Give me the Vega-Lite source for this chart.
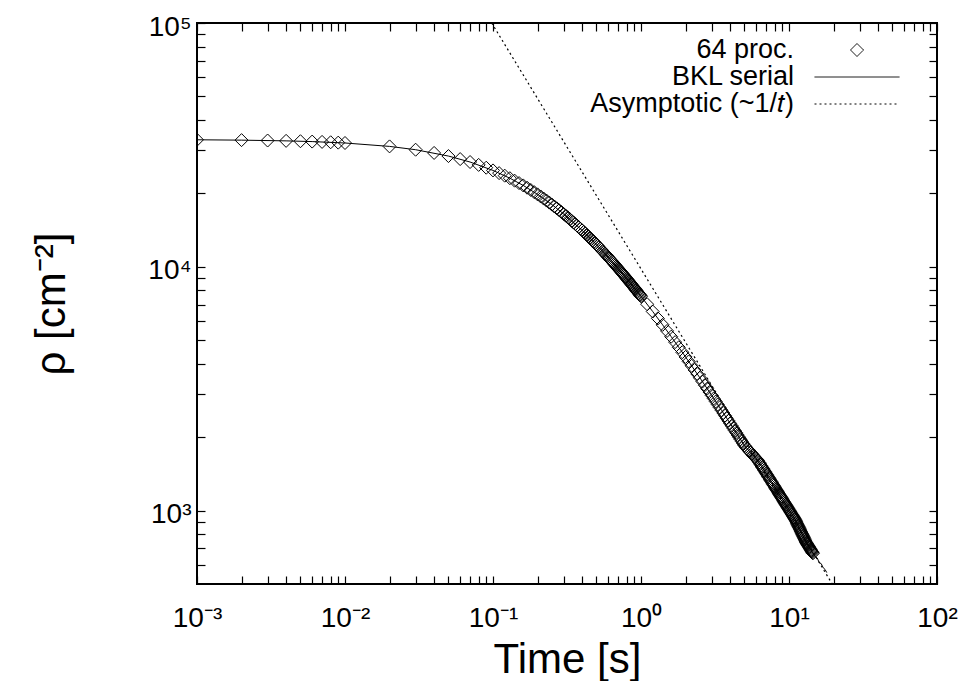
{
  "$schema": "https://vega.github.io/schema/vega-lite/v6.json",
  "width": 740,
  "height": 561,
  "autosize": "none",
  "padding": {"left": 197, "top": 23, "right": 26, "bottom": 97},
  "background": "white",
  "config": {
    "font": "Liberation Sans",
    "view": {"stroke": "black", "strokeWidth": 2},
    "axis": {"grid": false, "domain": false, "tickColor": "black", "tickWidth": 1.2, "labelColor": "black", "titleColor": "black", "titleFontWeight": "normal", "labelFont": "Liberation Sans", "titleFont": "Liberation Sans"}
  },
  "datasets": {
    "asym": [{"t": 0.098, "rho": 100000}, {"t": 19.6, "rho": 500}],
    "bkl": [
      {"t": 0.001, "rho": 33190}, {"t": 0.002, "rho": 33075}, {"t": 0.004, "rho": 32850}, {"t": 0.006, "rho": 32630}, {"t": 0.01, "rho": 32200},
      {"t": 0.02, "rho": 31180}, {"t": 0.03, "rho": 30220}, {"t": 0.05, "rho": 28460}, {"t": 0.07, "rho": 26900}, {"t": 0.1, "rho": 24850},
      {"t": 0.13, "rho": 23090}, {"t": 0.16, "rho": 21570}, {"t": 0.2, "rho": 19820}, {"t": 0.25, "rho": 18000}, {"t": 0.3, "rho": 16480},
      {"t": 0.4, "rho": 14110}, {"t": 0.5, "rho": 12330}, {"t": 0.6, "rho": 10950}, {"t": 0.7, "rho": 9850}, {"t": 0.8, "rho": 8950},
      {"t": 0.9, "rho": 8200}, {"t": 1.0, "rho": 7566}, {"t": 1.2, "rho": 6554}, {"t": 1.4, "rho": 5780}, {"t": 1.6, "rho": 5169},
      {"t": 1.8, "rho": 4676}, {"t": 2.0, "rho": 4268}, {"t": 2.5, "rho": 3504}, {"t": 3.0, "rho": 2972}, {"t": 3.5, "rho": 2581},
      {"t": 4.0, "rho": 2280}, {"t": 4.5, "rho": 2042}, {"t": 5.0, "rho": 1849}, {"t": 5.5, "rho": 1732}, {"t": 6.0, "rho": 1634},
      {"t": 6.5, "rho": 1527}, {"t": 7.0, "rho": 1423}, {"t": 7.5, "rho": 1332}, {"t": 8.0, "rho": 1251}, {"t": 8.5, "rho": 1180},
      {"t": 9.0, "rho": 1117}, {"t": 9.5, "rho": 1060}, {"t": 10, "rho": 1008}, {"t": 10.5, "rho": 962}, {"t": 11, "rho": 919},
      {"t": 11.5, "rho": 870}, {"t": 12, "rho": 824}, {"t": 12.5, "rho": 783}, {"t": 13, "rho": 744}, {"t": 13.5, "rho": 717},
      {"t": 14, "rho": 692}, {"t": 14.5, "rho": 668}, {"t": 15, "rho": 648}, {"t": 15.5, "rho": 640}, {"t": 16, "rho": 612},
      {"t": 16.5, "rho": 606}, {"t": 17, "rho": 584}, {"t": 17.5, "rho": 574}, {"t": 18, "rho": 557}
    ],
    "pts": [
      {"t": 0.001, "rho": 33190}, {"t": 0.002, "rho": 33080}, {"t": 0.003, "rho": 32960}, {"t": 0.004, "rho": 32850}, {"t": 0.005, "rho": 32740},
      {"t": 0.006, "rho": 32630}, {"t": 0.007, "rho": 32530}, {"t": 0.008, "rho": 32420}, {"t": 0.009, "rho": 32310}, {"t": 0.01, "rho": 32200},
      {"t": 0.02, "rho": 31180}, {"t": 0.03, "rho": 30220}, {"t": 0.04, "rho": 29310}, {"t": 0.05, "rho": 28460}, {"t": 0.06, "rho": 27660},
      {"t": 0.07, "rho": 26900}, {"t": 0.08, "rho": 26180}, {"t": 0.09, "rho": 25500}, {"t": 0.1, "rho": 24850},
      {"t": 0.11, "rho": 24230}, {"t": 0.12, "rho": 23650}, {"t": 0.13, "rho": 23090}, {"t": 0.14, "rho": 22560}, {"t": 0.15, "rho": 22050},
      {"t": 0.16, "rho": 21570}, {"t": 0.17, "rho": 21100}, {"t": 0.18, "rho": 20660}, {"t": 0.19, "rho": 20230}, {"t": 0.2, "rho": 19820},
      {"t": 0.21, "rho": 19430}, {"t": 0.22, "rho": 19050}, {"t": 0.23, "rho": 18690}, {"t": 0.24, "rho": 18340}, {"t": 0.25, "rho": 18000},
      {"t": 0.26, "rho": 17670}, {"t": 0.27, "rho": 17360}, {"t": 0.28, "rho": 17060}, {"t": 0.29, "rho": 16770}, {"t": 0.3, "rho": 16480},
      {"t": 0.31, "rho": 16210}, {"t": 0.32, "rho": 15950}, {"t": 0.33, "rho": 15690}, {"t": 0.34, "rho": 15440}, {"t": 0.35, "rho": 15200},
      {"t": 0.36, "rho": 14970}, {"t": 0.37, "rho": 14750}, {"t": 0.38, "rho": 14530}, {"t": 0.39, "rho": 14310}, {"t": 0.4, "rho": 14110},
      {"t": 0.41, "rho": 13910}, {"t": 0.42, "rho": 13710}, {"t": 0.43, "rho": 13520}, {"t": 0.44, "rho": 13340}, {"t": 0.45, "rho": 13160},
      {"t": 0.46, "rho": 12990}, {"t": 0.47, "rho": 12820}, {"t": 0.48, "rho": 12650}, {"t": 0.49, "rho": 12490}, {"t": 0.5, "rho": 12330},
      {"t": 0.51, "rho": 12180}, {"t": 0.52, "rho": 12030}, {"t": 0.53, "rho": 11880}, {"t": 0.54, "rho": 11740}, {"t": 0.55, "rho": 11600},
      {"t": 0.56, "rho": 11470}, {"t": 0.57, "rho": 11330}, {"t": 0.58, "rho": 11200}, {"t": 0.59, "rho": 11080}, {"t": 0.6, "rho": 10950},
      {"t": 0.61, "rho": 10830}, {"t": 0.62, "rho": 10710}, {"t": 0.63, "rho": 10600}, {"t": 0.64, "rho": 10480}, {"t": 0.65, "rho": 10370},
      {"t": 0.66, "rho": 10260}, {"t": 0.67, "rho": 10160}, {"t": 0.68, "rho": 10050}, {"t": 0.69, "rho": 9950}, {"t": 0.7, "rho": 9850},
      {"t": 0.71, "rho": 9752}, {"t": 0.72, "rho": 9656}, {"t": 0.73, "rho": 9562}, {"t": 0.74, "rho": 9469}, {"t": 0.75, "rho": 9378},
      {"t": 0.76, "rho": 9289}, {"t": 0.77, "rho": 9202}, {"t": 0.78, "rho": 9116}, {"t": 0.79, "rho": 9032}, {"t": 0.8, "rho": 8950},
      {"t": 0.81, "rho": 8869}, {"t": 0.82, "rho": 8789}, {"t": 0.83, "rho": 8711}, {"t": 0.84, "rho": 8634}, {"t": 0.85, "rho": 8558},
      {"t": 0.86, "rho": 8484}, {"t": 0.87, "rho": 8411}, {"t": 0.88, "rho": 8340}, {"t": 0.89, "rho": 8269}, {"t": 0.9, "rho": 8200},
      {"t": 0.91, "rho": 8132}, {"t": 0.92, "rho": 8065}, {"t": 0.93, "rho": 7999}, {"t": 0.94, "rho": 7934}, {"t": 0.95, "rho": 7870},
      {"t": 0.96, "rho": 7808}, {"t": 0.97, "rho": 7746}, {"t": 0.98, "rho": 7685}, {"t": 0.99, "rho": 7625}, {"t": 1.0, "rho": 7566},
      {"t": 1.1, "rho": 7024}, {"t": 1.2, "rho": 6554}, {"t": 1.3, "rho": 6143}, {"t": 1.4, "rho": 5780}, {"t": 1.5, "rho": 5457},
      {"t": 1.6, "rho": 5169}, {"t": 1.7, "rho": 4910}, {"t": 1.8, "rho": 4676}, {"t": 1.9, "rho": 4463}, {"t": 2.0, "rho": 4268},
      {"t": 2.1, "rho": 4090}, {"t": 2.2, "rho": 3926}, {"t": 2.3, "rho": 3775}, {"t": 2.4, "rho": 3635}, {"t": 2.5, "rho": 3504},
      {"t": 2.6, "rho": 3383}, {"t": 2.7, "rho": 3270}, {"t": 2.8, "rho": 3164}, {"t": 2.9, "rho": 3065}, {"t": 3.0, "rho": 2972},
      {"t": 3.1, "rho": 2885}, {"t": 3.2, "rho": 2802}, {"t": 3.3, "rho": 2724}, {"t": 3.4, "rho": 2651}, {"t": 3.5, "rho": 2581},
      {"t": 3.6, "rho": 2514}, {"t": 3.7, "rho": 2451}, {"t": 3.8, "rho": 2392}, {"t": 3.9, "rho": 2335}, {"t": 4.0, "rho": 2280},
      {"t": 4.1, "rho": 2228}, {"t": 4.2, "rho": 2179}, {"t": 4.3, "rho": 2131}, {"t": 4.4, "rho": 2086}, {"t": 4.5, "rho": 2042},
      {"t": 4.6, "rho": 2001}, {"t": 4.7, "rho": 1961}, {"t": 4.8, "rho": 1922}, {"t": 4.9, "rho": 1885}, {"t": 5.0, "rho": 1849},
      {"t": 5.1, "rho": 1824}, {"t": 5.2, "rho": 1800}, {"t": 5.3, "rho": 1776}, {"t": 5.4, "rho": 1754}, {"t": 5.5, "rho": 1732},
      {"t": 5.6, "rho": 1711}, {"t": 5.7, "rho": 1690}, {"t": 5.8, "rho": 1671}, {"t": 5.9, "rho": 1652}, {"t": 6.0, "rho": 1634},
      {"t": 6.1, "rho": 1615}, {"t": 6.2, "rho": 1598}, {"t": 6.3, "rho": 1574}, {"t": 6.4, "rho": 1551}, {"t": 6.5, "rho": 1527},
      {"t": 6.6, "rho": 1505}, {"t": 6.7, "rho": 1484}, {"t": 6.8, "rho": 1463}, {"t": 6.9, "rho": 1443}, {"t": 7.0, "rho": 1423},
      {"t": 7.1, "rho": 1404}, {"t": 7.2, "rho": 1385}, {"t": 7.3, "rho": 1367}, {"t": 7.4, "rho": 1349}, {"t": 7.5, "rho": 1332},
      {"t": 7.6, "rho": 1315}, {"t": 7.7, "rho": 1298}, {"t": 7.8, "rho": 1282}, {"t": 7.9, "rho": 1267}, {"t": 8.0, "rho": 1251},
      {"t": 8.1, "rho": 1236}, {"t": 8.2, "rho": 1222}, {"t": 8.3, "rho": 1208}, {"t": 8.4, "rho": 1194}, {"t": 8.5, "rho": 1180},
      {"t": 8.6, "rho": 1167}, {"t": 8.7, "rho": 1154}, {"t": 8.8, "rho": 1141}, {"t": 8.9, "rho": 1129}, {"t": 9.0, "rho": 1117},
      {"t": 9.1, "rho": 1105}, {"t": 9.2, "rho": 1093}, {"t": 9.3, "rho": 1082}, {"t": 9.4, "rho": 1071}, {"t": 9.5, "rho": 1060},
      {"t": 9.6, "rho": 1049}, {"t": 9.7, "rho": 1038}, {"t": 9.8, "rho": 1028}, {"t": 9.9, "rho": 1018}, {"t": 10.0, "rho": 1008},
      {"t": 10.1, "rho": 999}, {"t": 10.2, "rho": 989}, {"t": 10.3, "rho": 980}, {"t": 10.4, "rho": 971}, {"t": 10.5, "rho": 962},
      {"t": 10.6, "rho": 953}, {"t": 10.7, "rho": 944}, {"t": 10.8, "rho": 936}, {"t": 10.9, "rho": 927}, {"t": 11.0, "rho": 919},
      {"t": 11.1, "rho": 909}, {"t": 11.2, "rho": 899}, {"t": 11.3, "rho": 889}, {"t": 11.4, "rho": 879}, {"t": 11.5, "rho": 870},
      {"t": 11.6, "rho": 860}, {"t": 11.7, "rho": 851}, {"t": 11.8, "rho": 842}, {"t": 11.9, "rho": 833}, {"t": 12.0, "rho": 824},
      {"t": 12.1, "rho": 816}, {"t": 12.2, "rho": 807}, {"t": 12.3, "rho": 799}, {"t": 12.4, "rho": 791}, {"t": 12.5, "rho": 783},
      {"t": 12.6, "rho": 775}, {"t": 12.7, "rho": 767}, {"t": 12.8, "rho": 759}, {"t": 12.9, "rho": 751}, {"t": 13.0, "rho": 744},
      {"t": 13.1, "rho": 738}, {"t": 13.2, "rho": 733}, {"t": 13.3, "rho": 727}, {"t": 13.4, "rho": 722}, {"t": 13.5, "rho": 717},
      {"t": 13.6, "rho": 712}, {"t": 13.7, "rho": 707}, {"t": 13.8, "rho": 702}, {"t": 13.9, "rho": 697}, {"t": 14.0, "rho": 692},
      {"t": 14.1, "rho": 687}, {"t": 14.2, "rho": 682}, {"t": 14.3, "rho": 678}, {"t": 14.4, "rho": 673}, {"t": 14.5, "rho": 668}
    ]
  },
  "resolve": {"axis": {"x": "independent", "y": "independent"}},
  "layer": [
    {
      "data": {"name": "asym"},
      "mark": {"type": "line", "strokeWidth": 1.2, "strokeDash": [2, 3], "clip": true},
      "encoding": {
        "x": {"field": "t", "type": "quantitative",
          "scale": {"type": "log", "domain": [0.001, 100], "nice": false},
          "axis": {"orient": "bottom",
            "values": [0.001, 0.002, 0.003, 0.004, 0.005, 0.006, 0.007, 0.008, 0.009, 0.01, 0.02, 0.03, 0.04, 0.05, 0.06, 0.07, 0.08, 0.09, 0.1, 0.2, 0.3, 0.4, 0.5, 0.6, 0.7, 0.8, 0.9, 1, 2, 3, 4, 5, 6, 7, 8, 9, 10, 20, 30, 40, 50, 60, 70, 80, 90, 100],
            "title": "Time [s]", "titleFontSize": 42, "titleBaseline": "alphabetic", "titleY": 88,
            "labelExpr": "abs(log(datum.value)/LN10 - round(log(datum.value)/LN10)) < 0.0001 ? '10' + ['⁻³','⁻²','⁻¹','⁰','¹','²','³','⁴','⁵'][round(log(datum.value)/LN10)+3] : ''",
            "labelFontSize": 28, "labelFlush": false, "labelOverlap": false, "labelBaseline": "alphabetic", "labelPadding": 50,
            "tickSize": -8,
            "encode": {"ticks": {"update": {"y2": {"signal": "abs(log(datum.value)/LN10 - round(log(datum.value)/LN10)) < 0.0001 ? -8 : -4.5"}}}}
          }
        },
        "y": {"field": "rho", "type": "quantitative",
          "scale": {"type": "log", "domain": [500, 100000], "nice": false},
          "axis": {"orient": "left",
            "values": [600, 700, 800, 900, 1000, 2000, 3000, 4000, 5000, 6000, 7000, 8000, 9000, 10000, 20000, 30000, 40000, 50000, 60000, 70000, 80000, 90000, 100000],
            "title": "ρ [cm⁻²]", "titleFontSize": 42, "titleBaseline": "alphabetic", "titleX": -133,
            "labelExpr": "abs(log(datum.value)/LN10 - round(log(datum.value)/LN10)) < 0.0001 ? '10' + ['⁻³','⁻²','⁻¹','⁰','¹','²','³','⁴','⁵'][round(log(datum.value)/LN10)+3] : ''",
            "labelFontSize": 28, "labelFlush": false, "labelOverlap": false, "labelPadding": 14, "labelOffset": 4,
            "tickSize": -8,
            "encode": {"ticks": {"update": {"x2": {"signal": "abs(log(datum.value)/LN10 - round(log(datum.value)/LN10)) < 0.0001 ? 8 : 4.5"}}}}
          }
        },
        "color": {"datum": "Asymptotic (~1/𝑡)",
          "scale": {"domain": ["64 proc.", "BKL serial", "Asymptotic (~1/𝑡)"], "range": ["black", "black", "black"]},
          "legend": {"orient": "none", "legendX": 617, "legendY": 14, "title": null, "padding": 0, "rowPadding": 0,
            "symbolSize": 169, "symbolStrokeWidth": 1, "labelFontSize": 27, "labelFont": "Liberation Sans",
            "labelAlign": "right", "labelOffset": -106, "labelLimit": 500, "labelColor": "black",
            "encode": {
              "symbols": {"update": {
                "y": {"value": 13},
                "shape": {"signal": "datum.value === '64 proc.' ? 'diamond' : 'stroke'"},
                "size": {"signal": "datum.value === '64 proc.' ? 169 : 7225"},
                "strokeDash": {"signal": "datum.value === '64 proc.' || datum.value === 'BKL serial' ? [1, 0] : [2, 3]"},
                "stroke": {"value": "black"},
                "fill": {"value": "transparent"},
                "strokeWidth": {"value": 1},
                "opacity": {"value": 1}
              }},
              "labels": {"update": {"y": {"value": 13}}}
            }
          }
        }
      }
    },
    {
      "data": {"name": "bkl"},
      "mark": {"type": "line", "strokeWidth": 1, "clip": true},
      "encoding": {
        "x": {"field": "t", "type": "quantitative",
          "scale": {"type": "log", "domain": [0.001, 100], "nice": false},
          "axis": {"orient": "top",
            "values": [0.001, 0.002, 0.003, 0.004, 0.005, 0.006, 0.007, 0.008, 0.009, 0.01, 0.02, 0.03, 0.04, 0.05, 0.06, 0.07, 0.08, 0.09, 0.1, 0.2, 0.3, 0.4, 0.5, 0.6, 0.7, 0.8, 0.9, 1, 2, 3, 4, 5, 6, 7, 8, 9, 10, 20, 30, 40, 50, 60, 70, 80, 90, 100],
            "title": null, "labels": false, "tickSize": -8,
            "encode": {"ticks": {"update": {"y2": {"signal": "abs(log(datum.value)/LN10 - round(log(datum.value)/LN10)) < 0.0001 ? 8 : 4.5"}}}}
          }
        },
        "y": {"field": "rho", "type": "quantitative",
          "scale": {"type": "log", "domain": [500, 100000], "nice": false},
          "axis": {"orient": "right",
            "values": [600, 700, 800, 900, 1000, 2000, 3000, 4000, 5000, 6000, 7000, 8000, 9000, 10000, 20000, 30000, 40000, 50000, 60000, 70000, 80000, 90000, 100000],
            "title": null, "labels": false, "tickSize": -8,
            "encode": {"ticks": {"update": {"x2": {"signal": "abs(log(datum.value)/LN10 - round(log(datum.value)/LN10)) < 0.0001 ? -8 : -4.5"}}}}
          }
        },
        "color": {"datum": "BKL serial"}
      }
    },
    {
      "data": {"name": "pts"},
      "mark": {"type": "point", "shape": "diamond", "filled": false, "size": 169, "strokeWidth": 1, "opacity": 1, "clip": true},
      "encoding": {
        "x": {"field": "t", "type": "quantitative", "scale": {"type": "log", "domain": [0.001, 100], "nice": false}, "axis": null},
        "y": {"field": "rho", "type": "quantitative", "scale": {"type": "log", "domain": [500, 100000], "nice": false}, "axis": null},
        "color": {"datum": "64 proc."}
      }
    }
  ]
}
